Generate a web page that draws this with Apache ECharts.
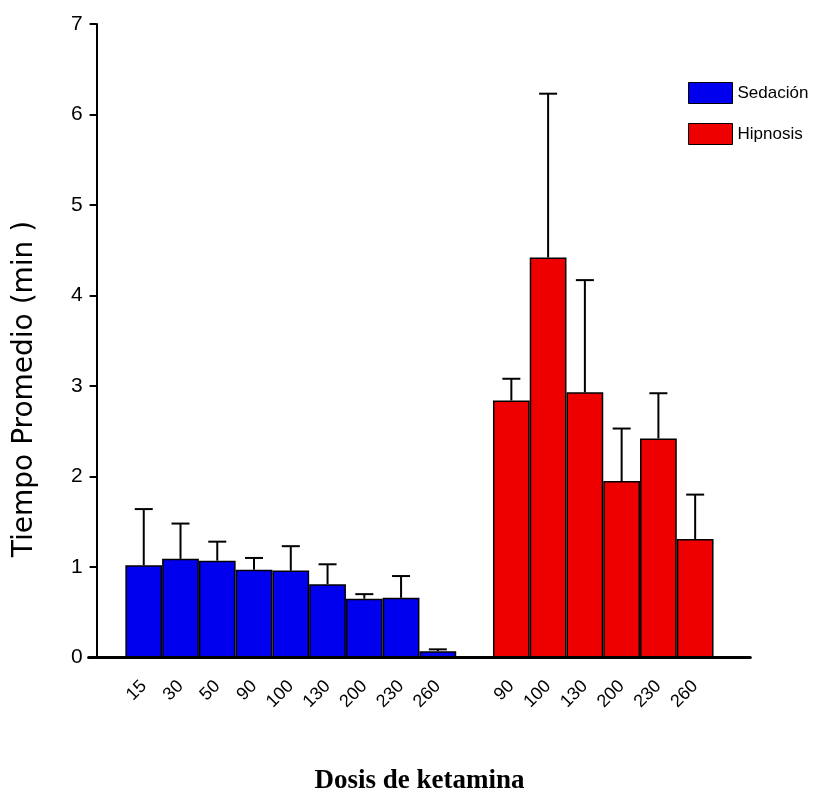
<!DOCTYPE html>
<html>
<head>
<meta charset="utf-8">
<script src="https://cdn.jsdelivr.net/npm/echarts@6/dist/echarts.min.js"></script>
<style>
  html, body { margin: 0; padding: 0; background: #fff; }
  #chart { width: 816px; height: 796px; }
</style>
</head>
<body>
<div id="chart"></div>
<script>
// Ketamine dose groups (mg) and mean time (min) with standard deviation
const sedacionDoses = ['15', '30', '50', '90', '100', '130', '200', '230', '260'];
const sedacionMeans = [1.02, 1.09, 1.07, 0.97, 0.96, 0.81, 0.65, 0.66, 0.07];
const sedacionSD    = [0.62, 0.39, 0.21, 0.13, 0.27, 0.22, 0.05, 0.24, 0.02];

const hipnosisDoses = ['90', '100', '130', '200', '230', '260'];
const hipnosisMeans = [2.84, 4.42, 2.93, 1.95, 2.42, 1.31];
const hipnosisSD    = [0.24, 1.81, 1.24, 0.58, 0.50, 0.49];

const yTicks = [0, 1, 2, 3, 4, 5, 6, 7];

// Category slots: an empty slot before, between and after the two groups
const categories = [''].concat(sedacionDoses, [''], hipnosisDoses, ['']);
const sedStart = 1;
const hipStart = sedStart + sedacionDoses.length + 1;

const sedData = categories.map(() => null);
const hipData = categories.map(() => null);
const errData = [];
sedacionMeans.forEach((v, i) => {
  sedData[sedStart + i] = v;
  errData.push([sedStart + i, v, sedacionSD[i]]);
});
hipnosisMeans.forEach((v, i) => {
  hipData[hipStart + i] = v;
  errData.push([hipStart + i, v, hipnosisSD[i]]);
});

const chart = echarts.init(document.getElementById('chart'), null, { renderer: 'canvas' });

const sans = 'Liberation Sans, Arial, sans-serif';

chart.setOption({
  animation: false,
  backgroundColor: '#ffffff',
  grid: {
    left: 88.6, right: 65.7, top: 24, bottom: 138.5,
    containLabel: false,
    outerBoundsMode: 'none'
  },
  legend: {
    orient: 'vertical',
    left: 688,
    top: 82,
    padding: 0,
    itemWidth: 44,
    itemHeight: 21,
    itemGap: 19,
    textStyle: { fontFamily: sans, fontSize: 17, color: '#000' },
    data: [
      { name: 'Sedación', icon: 'rect', itemStyle: { color: '#0000ee', borderColor: '#000', borderWidth: 1 } },
      { name: 'Hipnosis', icon: 'rect', itemStyle: { color: '#ee0000', borderColor: '#000', borderWidth: 1 } }
    ]
  },
  xAxis: {
    type: 'category',
    data: categories,
    boundaryGap: true,
    axisLine: { lineStyle: { color: '#000', width: 3 } },
    axisTick: { alignWithLabel: true, length: 8, lineStyle: { color: '#000', width: 2 } },
    axisLabel: {
      interval: 0,
      rotate: 45,
      margin: 26,
      fontFamily: sans,
      fontSize: 18,
      color: '#000'
    },
    name: 'Dosis de ketamina',
    nameLocation: 'middle',
    nameGap: 110,
    nameTextStyle: {
      fontFamily: 'Liberation Serif, Times New Roman, serif',
      fontWeight: 'bold',
      fontSize: 27,
      color: '#000'
    }
  },
  yAxis: {
    type: 'value',
    min: 0,
    max: 7,
    interval: 1,
    offset: -8,
    splitLine: { show: false },
    axisLine: { show: true, lineStyle: { color: '#000', width: 2 } },
    axisTick: { show: true, length: 7, lineStyle: { color: '#000', width: 2 } },
    axisLabel: {
      margin: 14,
      fontFamily: sans,
      fontSize: 21,
      color: '#000',
      formatter: v => (yTicks.indexOf(v) >= 0 ? String(v) : '')
    }
  },
  graphic: [{
    type: 'text',
    rotation: Math.PI / 2,
    x: 25,
    y: 389,
    style: {
      text: 'Tiempo Promedio (min )',
      fontFamily: 'DejaVu Sans, sans-serif',
      fontSize: 28,
      fill: '#000',
      textAlign: 'center',
      textVerticalAlign: 'middle'
    }
  }],
  series: [
    {
      name: 'Sedación',
      type: 'bar',
      data: sedData,
      barWidth: '100%',
      barGap: '-100%',
      itemStyle: { color: '#0000ee', borderColor: '#000', borderWidth: 1.5 }
    },
    {
      name: 'Hipnosis',
      type: 'bar',
      data: hipData,
      barWidth: '100%',
      barGap: '-100%',
      itemStyle: { color: '#ee0000', borderColor: '#000', borderWidth: 1.5 }
    },
    {
      name: 'SD',
      type: 'custom',
      z: 5,
      data: errData,
      renderItem: function (params, api) {
        const idx = api.value(0);
        const mean = api.value(1);
        const sd = api.value(2);
        const base = api.coord([idx, mean]);
        const top = api.coord([idx, mean + sd]);
        const half = 9;
        const style = { stroke: '#000', lineWidth: 2 };
        return {
          type: 'group',
          children: [
            { type: 'line', shape: { x1: base[0], y1: base[1], x2: top[0], y2: top[1] }, style: style },
            { type: 'line', shape: { x1: top[0] - half, y1: top[1], x2: top[0] + half, y2: top[1] }, style: style }
          ]
        };
      }
    }
  ]
});
</script>
</body>
</html>
